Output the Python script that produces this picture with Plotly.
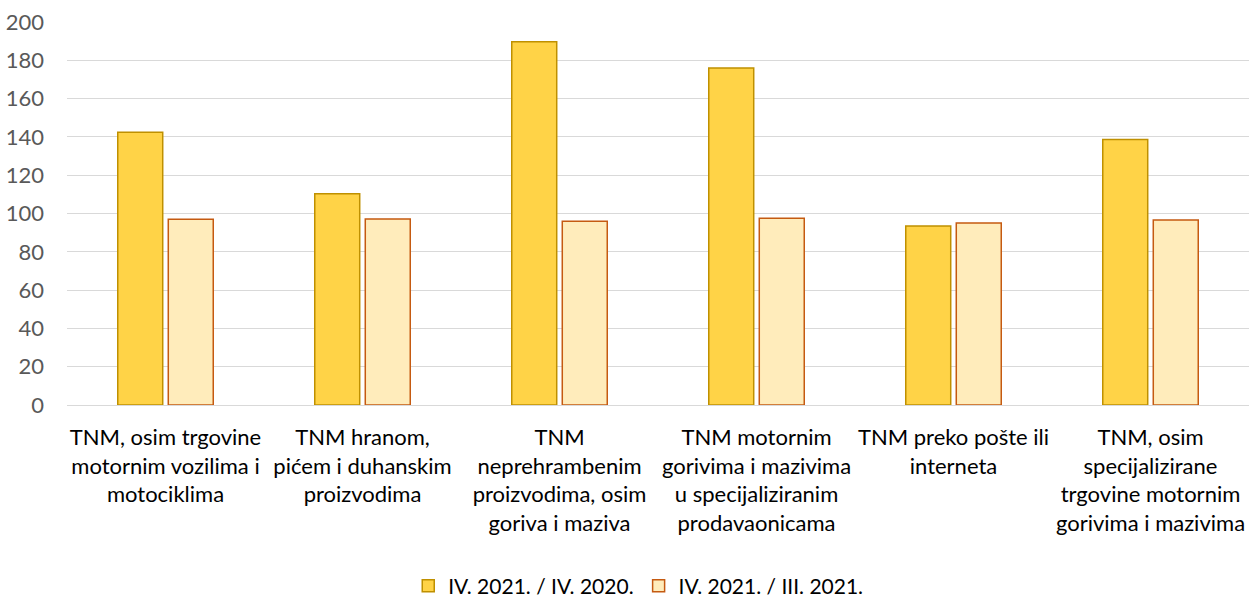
import plotly.graph_objects as go

categories = [
    "TNM, osim trgovine<br>motornim vozilima i<br>motociklima",
    "TNM hranom,<br>pićem i duhanskim<br>proizvodima",
    "TNM<br>neprehrambenim<br>proizvodima, osim<br>goriva i maziva",
    "TNM motornim<br>gorivima i mazivima<br>u specijaliziranim<br>prodavaonicama",
    "TNM preko pošte ili<br>interneta",
    "TNM, osim<br>specijalizirane<br>trgovine motornim<br>gorivima i mazivima",
]
series_names = ["IV. 2021. / IV. 2020.", "IV. 2021. / III. 2021."]
values_yoy = [142.4, 110.3, 189.7, 176.0, 93.5, 138.7]
values_mom = [97.0, 97.1, 95.9, 97.5, 95.0, 96.6]
y_ticks = [0, 20, 40, 60, 80, 100, 120, 140, 160, 180, 200]

FONT = "Lato"
FS = 22

fig = go.Figure()
fig.add_trace(go.Bar(
    x=categories, y=values_yoy, name=series_names[0],
    marker=dict(color="#FFD347", line=dict(color="#BF9000", width=1.5)),
))
fig.add_trace(go.Bar(
    x=categories, y=values_mom, name=series_names[1],
    marker=dict(color="#FFECBB", line=dict(color="#C55A11", width=1.5)),
))

fig.update_layout(
    width=1249, height=598,
    margin=dict(l=67, r=0, t=22, b=193, autoexpand=False),
    paper_bgcolor="white", plot_bgcolor="white",
    barmode="group", bargap=0.487, bargroupgap=0.11,
    font=dict(family=FONT, size=FS, color="#000000"),
    showlegend=True,
    legend=dict(
        orientation="h", xref="container", yref="container",
        x=0.511, xanchor="center", y=0.02, yanchor="middle",
        font=dict(family=FONT, size=21, color="#000000"),
        itemwidth=30, tracegroupgap=0,
    ),
    xaxis=dict(
        showgrid=False, showline=False, ticks="", tickangle=0,
        ticklabelstandoff=17,
        tickfont=dict(family=FONT, size=FS, color="#000000"),
    ),
    yaxis=dict(
        range=[0, 200], tickvals=y_ticks, showgrid=True,
        gridcolor="#D9D9D9", gridwidth=1.3, zeroline=True,
        zerolinecolor="#D9D9D9", zerolinewidth=1.3, showline=False,
        ticks="", ticklabelstandoff=22,
        tickfont=dict(family=FONT, size=FS, color="#595959"),
    ),
)

fig.write_html(
    "out.html",
    config={"displayModeBar": False},
    post_script="document.body.style.margin='0';document.body.style.overflow='hidden';",
)
